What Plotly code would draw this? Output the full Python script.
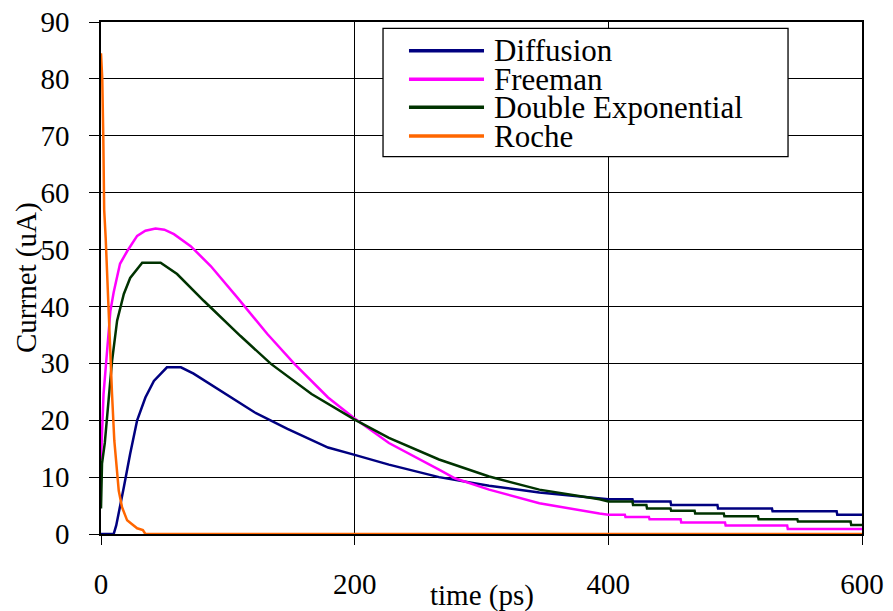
import plotly.graph_objects as go

# ---------------- data ----------------
series_names = ["Diffusion", "Freeman", "Double Exponential", "Roche"]
series_colors = ["#000080", "#FF00FF", "#003300", "#FF6600"]

diff_t = [0, 10, 12, 14, 18, 23, 28.5, 35, 41.7, 52, 63, 73, 94.5, 121, 147, 179, 200,
          227, 266.5, 306, 345.6, 393, 400, 419, 419.5, 449, 449.5, 486, 486.5, 529, 529.5,
          580, 580.5, 600]
diff_y = [0, 0, 1.5, 3.6, 8.2, 14.1, 20, 24, 26.9, 29.3, 29.3, 28.2, 25.2, 21.4, 18.5, 15.2, 13.9,
          12.2, 10, 8.5, 7.3, 6.3, 6.1, 6.1, 5.7, 5.7, 5.1, 5.1, 4.5, 4.5, 4.0,
          4.0, 3.4, 3.4]

free_t = [0, 1, 2, 4, 7.4, 10, 15, 20.6, 28.5, 35, 43, 50, 57.5, 70.7, 86.5, 107.7, 131, 152.5,
          179, 200, 227, 266.5, 279, 306, 345.6, 393, 400, 413, 413.5, 432, 432.5, 457, 457.5,
          492, 492.5, 541, 541.5, 600]
free_y = [13, 20, 24.6, 30, 39.2, 42.5, 47.5, 49.7, 52.4, 53.3, 53.7, 53.5, 52.7, 50.6, 47.1, 41.5,
          35.2, 29.9, 24, 20.3, 16, 11.3, 9.8, 7.8, 5.4, 3.6, 3.4, 3.4, 3.0, 3.0, 2.6, 2.6, 2.0,
          2.0, 1.5, 1.5, 0.9, 0.9]

dexp_t = [0, 0.8, 3, 4.7, 8.7, 12.7, 18, 23, 32.5, 47, 60, 81, 110, 134, 166, 200, 227, 266.5,
          306, 345.6, 393, 400, 419, 419.5, 430, 430.5, 449, 449.5, 468, 468.5, 491, 491.5,
          518, 518.5, 549, 549.5, 591, 591.5, 600]
dexp_y = [4.5, 12.4, 16, 20, 30.4, 37.5, 42.2, 45, 47.7, 47.7, 45.7, 41, 34.8, 29.9, 24.6, 20.1,
          16.9, 13.1, 10.1, 7.8, 6.1, 5.7, 5.7, 5.1, 5.1, 4.5, 4.5, 4.1, 4.1, 3.6, 3.6, 3.1,
          3.1, 2.6, 2.6, 2.2, 2.2, 1.6, 1.6]

roche_t = [0, 1, 1.8, 2.5, 3.7, 5.3, 6, 7, 8.7, 10.5, 12.7, 14, 16.6, 20.6, 24, 28.5, 33, 35, 600]
roche_y = [84.5, 80, 70, 57, 52, 43.3, 37.5, 34, 24.6, 16.4, 10.6, 7.6, 4.7, 2.4, 1.8, 1.0, 0.7, 0, 0]

x_tick_vals = [0, 200, 400, 600]
y_tick_vals = [0, 10, 20, 30, 40, 50, 60, 70, 80, 90]

x_title = "time (ps)"
y_title = "Currnet (uA)"

# ---------------- figure ----------------
FONT = "Times New Roman"
fig = go.Figure()
for name, color, t, y in zip(series_names, series_colors,
                             [diff_t, free_t, dexp_t, roche_t],
                             [diff_y, free_y, dexp_y, roche_y]):
    fig.add_trace(go.Scatter(x=t, y=y, mode="lines", name=name,
                             line=dict(color=color, width=2.5), showlegend=False))

fig.update_layout(
    width=893, height=611,
    margin=dict(l=101, r=31, t=22, b=77, autoexpand=False),
    paper_bgcolor="white", plot_bgcolor="white",
    font=dict(family=FONT, color="black", size=29),
)
fig.update_xaxes(
    range=[0, 600], tickvals=x_tick_vals, showgrid=True, gridcolor="black", gridwidth=1.3,
    showline=True, linecolor="black", linewidth=1.5, mirror=True, automargin=False,
    ticks="outside", ticklen=9, tickcolor="black", tickwidth=1.3,
    tickfont=dict(family=FONT, size=29, color="black"), ticklabelstandoff=14,
    zeroline=False,
)
fig.update_yaxes(
    range=[0, 90], tickvals=y_tick_vals, showgrid=True, gridcolor="black", gridwidth=1.3,
    showline=True, linecolor="black", linewidth=1.5, mirror=True, automargin=False,
    ticks="outside", ticklen=10, tickcolor="black", tickwidth=1.3,
    tickfont=dict(family=FONT, size=29, color="black"), ticklabelstandoff=14,
    zeroline=False,
)

# axis titles
fig.add_annotation(text=x_title, xref="paper", yref="paper", x=0.5, y=0,
                   yshift=-61, xanchor="center", yanchor="middle", showarrow=False,
                   font=dict(family=FONT, size=29, color="black"))
fig.add_annotation(text=y_title, xref="paper", yref="paper", x=0, y=0.5,
                   xshift=-75, xanchor="center", yanchor="middle", textangle=-90,
                   showarrow=False, font=dict(family=FONT, size=29, color="black"))

# legend box (drawn manually to match the compact row spacing)
lx0, lx1, ly0, ly1 = 0.3706, 0.9028, 0.7369, 0.9877
fig.add_shape(type="rect", xref="paper", yref="paper", x0=lx0, x1=lx1, y0=ly0, y1=ly1,
              line=dict(color="black", width=1.3), fillcolor="white", layer="above")
row_y = [0.944, 0.888, 0.8334, 0.7773]
for name, color, ry in zip(series_names, series_colors, row_y):
    fig.add_shape(type="line", xref="paper", yref="paper", x0=0.4047, x1=0.5033, y0=ry, y1=ry,
                  line=dict(color=color, width=3.5), layer="above")
    fig.add_annotation(text=name, xref="paper", yref="paper", x=0.5134, y=ry,
                       xanchor="left", yanchor="middle", showarrow=False,
                       font=dict(family=FONT, size=31, color="black"))

fig.write_html("out.html", config={"displayModeBar": False},
               post_script="document.body.style.margin='0px';")
